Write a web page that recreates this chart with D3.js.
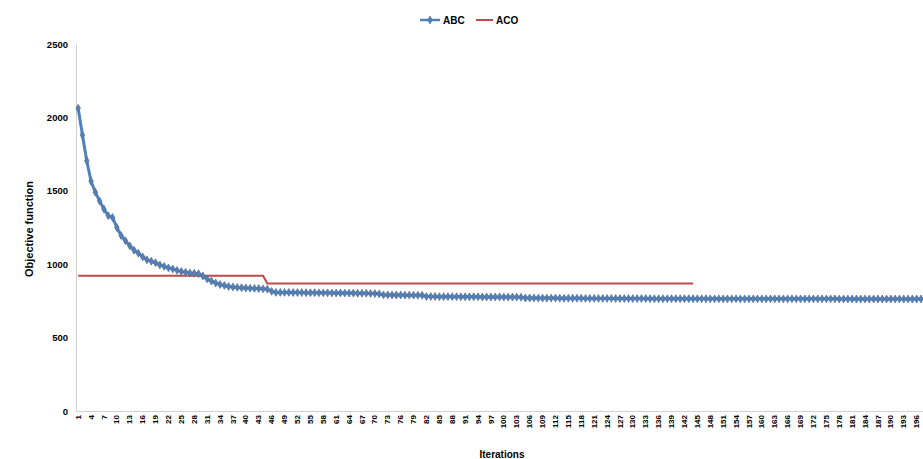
<!DOCTYPE html>
<html><head><meta charset="utf-8">
<script src="https://cdn.jsdelivr.net/npm/d3@7/dist/d3.min.js"></script>
<style>html,body{margin:0;padding:0;background:#fff;overflow:hidden}</style>
</head><body>
<svg id="chart" width="923" height="459"></svg>
<script>
const abcValues = [
2062,1880,1705,1565,1490,1430,1375,1330,1318,1250,
1195,1160,1125,1095,1075,1050,1030,1020,1010,995,
985,975,968,958,950,945,940,938,935,920,
900,885,872,862,855,848,845,842,840,838,
836,835,834,832,830,815,
808,808,808,808,807,807,807,806,806,806,
805,805,805,804,804,804,803,803,803,802,
802,802,801,800,798,
791,791,790,790,790,789,789,789,788,788,
780,780,780,779,779,779,779,779,778,778,
778,778,778,777,777,777,777,777,776,776,
776,776,775,
770,770,770,769,769,769,769,769,768,768,
768,768,768,768,767,767,767,767,767,767,
767,766,766,766,766,766,766,766,766,765,
765,765,765,
765,765,765,765,765,765,765,765,765,765,
764,764,764,764,764,764,764,764,764,764,
764,764,764,764,764,764,764,764,764,764,
764,764,764,764,764,764,764,764,764,764,
763,763,763,763,763,763,763,763,763,763,
763,763,763,763,763,763,763,763,763,763,
763,763,763
];
const acoValues = [
922,922,922,922,922,922,922,922,922,922,
922,922,922,922,922,922,922,922,922,922,
922,922,922,922,922,922,922,922,922,922,
922,922,922,922,922,922,922,922,922,922,
922,922,922,922,
868,868,868,868,868,868,868,868,868,868,
868,868,868,868,868,868,868,868,868,868,
868,868,868,868,868,868,868,868,868,868,
868,868,868,868,868,868,868,868,868,868,
868,868,868,868,868,868,868,868,868,868,
868,868,868,868,868,868,868,868,868,868,
868,868,868,868,868,868,868,868,868,868,
868,868,868,868,868,868,868,868,868,868,
868,868,868,868,868,868,868,868,868,868,
868,868,868,868,868,868,868,868,868,868
];
const categories = abcValues.map((_, i) => i + 1);
const xTickLabels = categories.filter(c => c % 3 === 1 && c <= 196);
const yTicks = [0, 500, 1000, 1500, 2000, 2500];
const seriesNames = ["ABC", "ACO"];

const svg = d3.select("#chart");
const font = "'Liberation Sans', Arial, sans-serif";
const mLeft = 76, mTop = 44, mBottom = 411, band = 4.30;

const x = d3.scaleBand().domain(categories).range([mLeft, mLeft + categories.length * band]).padding(0);
const y = d3.scaleLinear().domain([0, 2500]).range([mBottom, mTop]);
const cx = c => x(c) + x.bandwidth() / 2;

// axes
const yAxis = svg.append("g").attr("transform", `translate(${mLeft},0)`)
  .call(d3.axisLeft(y).tickValues(yTicks).tickSize(0).tickPadding(8).tickFormat(d3.format("d")));
yAxis.select(".domain").attr("stroke", "#d0d0d0").attr("stroke-width", 1);
yAxis.selectAll("text").attr("font-family", font).attr("font-size", 9.5).attr("font-weight", "bold").attr("fill", "#000");

const xAxis = svg.append("g").attr("transform", `translate(0,${mBottom})`)
  .call(d3.axisBottom(x).tickValues(xTickLabels).tickSize(0).tickPadding(0));
xAxis.select(".domain").attr("stroke", "#d0d0d0").attr("stroke-width", 1);
xAxis.selectAll("text")
  .attr("font-family", font).attr("font-size", 8).attr("font-weight", "bold").attr("fill", "#000")
  .attr("text-anchor", "end").attr("dy", "0.32em")
  .attr("transform", "translate(0,4) rotate(-90)").attr("x", 0).attr("y", 0);

// ACO line
const acoLine = d3.line().x((d, i) => cx(categories[i])).y(d => y(d));
svg.append("path").datum(acoValues).attr("d", acoLine)
  .attr("fill", "none").attr("stroke", "#be4b48").attr("stroke-width", 2);

// ABC line
const abcLine = d3.line().x((d, i) => cx(categories[i])).y(d => y(d));
svg.append("path").datum(abcValues).attr("d", abcLine)
  .attr("fill", "none").attr("stroke", "#4f81bd").attr("stroke-width", 3);

const diamond = d3.symbol().type(d3.symbolDiamond).size(18);
svg.append("g").selectAll("path").data(abcValues).join("path")
  .attr("d", diamond)
  .attr("transform", (d, i) => `translate(${cx(categories[i])},${y(d)})`)
  .attr("fill", "#4f81bd").attr("stroke", "#5a6f8f").attr("stroke-width", 0.7);

// axis titles
svg.append("text").attr("transform", "translate(33,229) rotate(-90)")
  .attr("text-anchor", "middle").attr("font-family", font).attr("font-size", 11).attr("font-weight", "bold")
  .text("Objective function");
svg.append("text").attr("x", 502).attr("y", 458)
  .attr("text-anchor", "middle").attr("font-family", font).attr("font-size", 10).attr("font-weight", "bold")
  .text("Iterations");

// legend
const lg = svg.append("g");
lg.append("line").attr("x1", 420).attr("x2", 440).attr("y1", 20).attr("y2", 20)
  .attr("stroke", "#4f81bd").attr("stroke-width", 2.5);
lg.append("path").attr("d", diamond).attr("transform", "translate(430,20)")
  .attr("fill", "#4f81bd").attr("stroke", "#5a6f8f").attr("stroke-width", 0.7);
lg.append("text").attr("x", 443).attr("y", 23.5).attr("font-family", font).attr("font-size", 10).attr("font-weight", "bold").text(seriesNames[0]);
lg.append("line").attr("x1", 476).attr("x2", 493).attr("y1", 20).attr("y2", 20)
  .attr("stroke", "#be4b48").attr("stroke-width", 2);
lg.append("text").attr("x", 496).attr("y", 23.5).attr("font-family", font).attr("font-size", 10).attr("font-weight", "bold").text(seriesNames[1]);
</script>
</body></html>
